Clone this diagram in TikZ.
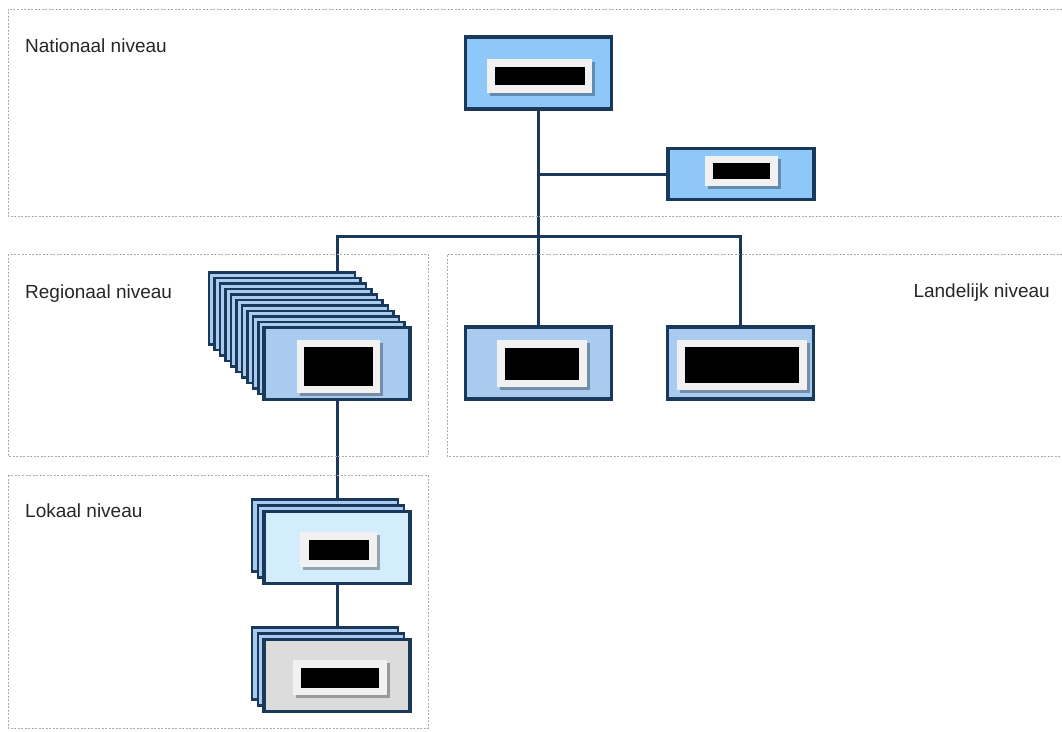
\documentclass[tikz,border=0pt]{standalone}
\usepackage{fontspec}
\setmainfont{Liberation Sans}
\usepackage{tikz}
\usetikzlibrary{calc}
\usetikzlibrary{shadows}
\usetikzlibrary{backgrounds}
\definecolor{navy}{HTML}{1A3859}
\definecolor{natblue}{HTML}{8DC8F8}
\definecolor{regblue}{HTML}{A9CBEF}
\definecolor{lokblue}{HTML}{D3EDFC}
\definecolor{gemgray}{HTML}{DCDCDC}
\definecolor{tagfill}{HTML}{F1F1F1}
\newcommand{\maketag}[7]{\node[tag, minimum width=#4pt, minimum height=#5pt] (#1tag) at ($(#1)+(#2,#3)$) {}; \node[mask, minimum width=#6pt, minimum height=#7pt] (#1mask) at (#1tag) {};}

\begin{document}
\begin{tikzpicture}[x=1pt, y=-1pt,
    panel/.style={draw=gray!65, dash pattern=on 2pt off 1.5pt, line width=0.9pt},
    level/.style={inner sep=0pt, text=black!85, font=\fontsize{19}{22}\selectfont},
    orgbox/.style={draw=navy, line width=3.1pt, fill=#1, minimum width=146pt, minimum height=72pt, inner sep=0pt},
    layer/.style={draw=navy, line width=2.2pt, fill=#1, minimum width=146pt, minimum height=72pt, inner sep=0pt},
    tag/.style={fill=tagfill, inner sep=0pt, general shadow={fill=black, opacity=.3, shadow xshift=3pt, shadow yshift=-3pt}},
    mask/.style={fill=black, inner sep=0pt},
    link/.style={draw=navy, line width=3pt}]
    \useasboundingbox (0,0) rectangle (1062,731);
    %levels
    \draw[panel] (1062,9) -- (8,9) -- (8,216) -- (1062,216);
    \draw[panel] (8,254) rectangle (428,456);
    \draw[panel] (1062,254) -- (447,254) -- (447,456) -- (1062,456);
    \draw[panel] (8,475) rectangle (428,728);
    \node[level, anchor=base west] (natlabel) at (25,52) {Nationaal niveau};
    \node[level, anchor=base west] (reglabel) at (25,298) {Regionaal niveau};
    \node[level, anchor=base west] (loklabel) at (25,517) {Lokaal niveau};
    \node[level, anchor=base east] (landlabel) at (1050,297) {Landelijk niveau};
    %national
    \node[orgbox=natblue] (nat) at (538.5,73) {};
    \maketag{nat}{1}{3}{105}{34}{90}{18}
    \node[orgbox=natblue, minimum height=51.5pt] (staff) at (741,174) {};
    \maketag{staff}{0.5}{-3}{73}{30}{57}{16}
    %landelijk
    \node[orgbox=regblue] (mid) at (538.5,363) {};
    \maketag{mid}{3.5}{0.5}{90}{47}{74}{32}
    \node[orgbox=regblue] (land) at (740.5,363) {};
    \maketag{land}{1.5}{2}{130}{50}{114}{36}
    %regional stack
    \foreach \k in {10,9,...,1}
        \node[layer=regblue] (reg\k) at ($(337,363.5)+\k*(-5.5,-5.5)$) {};
    \node[orgbox=regblue] (reg) at (337,363.5) {};
    \maketag{reg}{1.5}{3}{83}{53}{69}{39}
    %local stacks
    \foreach \k in {2,1} {
        \node[layer=regblue] (lok\k) at ($(337,547.5)+\k*(-6,-6)$) {};
        \node[layer=regblue] (gem\k) at ($(337,675.5)+\k*(-6,-6)$) {};}
    \node[orgbox=lokblue] (lok) at (337,547.5) {};
    \maketag{lok}{1.5}{2}{77}{35}{60}{20}
    \node[orgbox=gemgray] (gem) at (337,675.5) {};
    \maketag{gem}{3}{2}{94}{35}{78}{20}
    %connectors
    \begin{scope}[on background layer]
        \coordinate (bar) at (538.5,236);
        \draw[link] (nat) -- (mid);
        \draw[link] (staff) -- (staff -| nat);
        \draw[link] (reg |- reg10.north) |- (bar) -| (land.north);
        \draw[link] (reg) -- (lok);
        \draw[link] (lok) -- (gem);
    \end{scope}
\end{tikzpicture}
\end{document}
